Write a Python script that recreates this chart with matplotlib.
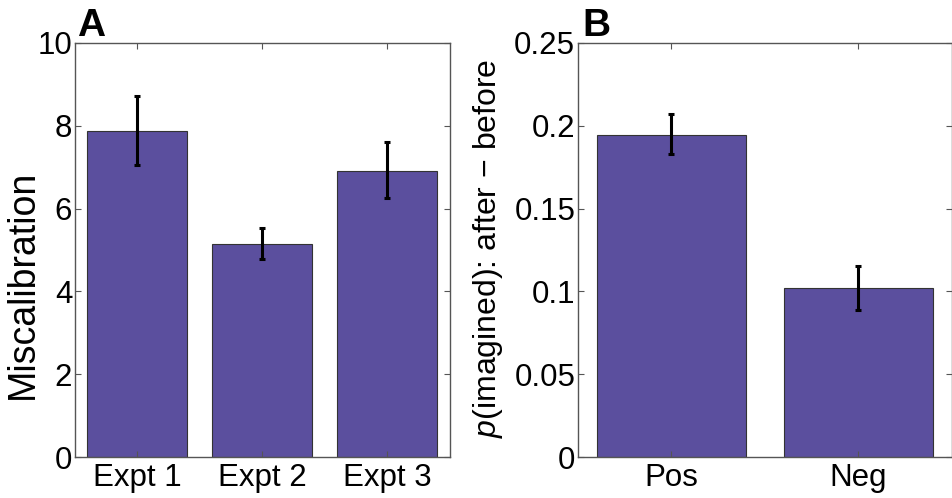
import matplotlib
matplotlib.use("Agg")
import matplotlib.pyplot as plt

# Panel A data
cats_a = ["Expt 1", "Expt 2", "Expt 3"]
vals_a = [7.88, 5.14, 6.92]
err_lo_a = [7.06, 4.78, 6.25]
err_hi_a = [8.73, 5.52, 7.60]
yticks_a = [0, 2, 4, 6, 8, 10]

# Panel B data
cats_b = ["Pos", "Neg"]
vals_b = [0.1944, 0.1019]
err_lo_b = [0.1828, 0.0888]
err_hi_b = [0.2071, 0.1155]
yticks_b = [0, 0.05, 0.1, 0.15, 0.2, 0.25]
ytick_labels_b = ["0", "0.05", "0.1", "0.15", "0.2", "0.25"]

plt.rcParams['font.family'] = ['Liberation Sans', 'DejaVu Sans']
plt.rcParams['mathtext.fontset'] = 'custom'
plt.rcParams['mathtext.rm'] = 'Liberation Sans'
plt.rcParams['mathtext.it'] = 'Liberation Sans:italic'

BAR = '#5b4f9e'
EDGE = '#333333'
SPINE = '#555555'
TICK_FS = 22.5

fig = plt.figure(figsize=(9.53, 4.98), dpi=100)

def style(ax):
    for s in ax.spines.values():
        s.set_color(SPINE)
        s.set_linewidth(1.0)
    ax.tick_params(direction='in', length=4, width=0.8, color=SPINE,
                   labelsize=TICK_FS, top=True, right=True)
    ax.tick_params(axis='x', pad=4)
    ax.tick_params(axis='y', pad=2)

axA = fig.add_axes([75/953, 41/498, 375/953, 414/498])
xa = list(range(1, len(cats_a) + 1))
axA.bar(xa, vals_a, width=0.8, color=BAR, edgecolor=EDGE, linewidth=0.8)
axA.errorbar(xa, vals_a,
             yerr=[[v - l for v, l in zip(vals_a, err_lo_a)],
                   [h - v for v, h in zip(vals_a, err_hi_a)]],
             fmt='none', ecolor='black', elinewidth=2.2, capsize=2, capthick=2.2)
axA.set_xlim(0.5, len(cats_a) + 0.5)
axA.set_ylim(0, 10)
axA.set_xticks(xa)
axA.set_xticklabels(cats_a)
axA.set_yticks(yticks_a)
axA.set_yticklabels([str(t) for t in yticks_a])
style(axA)
axA.set_ylabel("Miscalibration", fontsize=27)
axA.yaxis.set_label_coords(-0.09, 0.417)
axA.text(0.005, 1.017, "A", transform=axA.transAxes, fontsize=28,
         fontweight='bold', ha='left', va='baseline')

axB = fig.add_axes([578/953, 41/498, 374/953, 414/498])
xb = list(range(1, len(cats_b) + 1))
axB.bar(xb, vals_b, width=0.8, color=BAR, edgecolor=EDGE, linewidth=0.8)
axB.errorbar(xb, vals_b,
             yerr=[[v - l for v, l in zip(vals_b, err_lo_b)],
                   [h - v for v, h in zip(vals_b, err_hi_b)]],
             fmt='none', ecolor='black', elinewidth=2.2, capsize=2, capthick=2.2)
axB.set_xlim(0.5, len(cats_b) + 0.5)
axB.set_ylim(0, 0.25)
axB.set_xticks(xb)
axB.set_xticklabels(cats_b)
axB.set_yticks(yticks_b)
axB.set_yticklabels(ytick_labels_b)
style(axB)
axB.set_ylabel(r"$p$(imagined): after − before", fontsize=23)
axB.yaxis.set_label_coords(-0.195, 0.505)
axB.text(0.011, 1.017, "B", transform=axB.transAxes, fontsize=28,
         fontweight='bold', ha='left', va='baseline')

fig.savefig("out.png", dpi=100)
